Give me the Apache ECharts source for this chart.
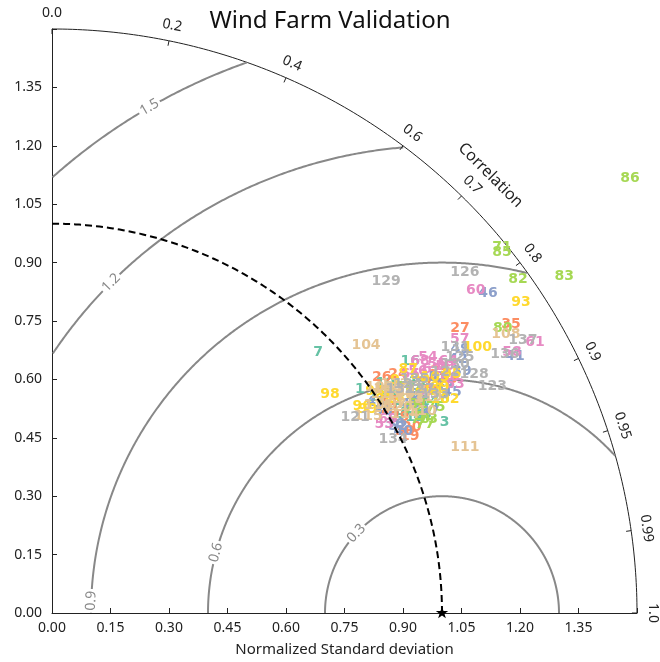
<!DOCTYPE html>
<html><head><meta charset="utf-8">
<script src="https://cdn.jsdelivr.net/npm/echarts@6/dist/echarts.min.js"></script>
<style>html,body{margin:0;padding:0;background:#fff}#c{width:660px;height:662px}</style>
</head><body><div id="c"></div>
<script>
// Point ids (labels drawn on the diagram)
const pointIds = [1,2,3,4,5,6,7,8,9,10,11,12,13,14,15,16,17,18,19,20,21,22,23,24,25,26,27,28,29,30,31,32,33,34,35,36,37,38,39,40,41,42,43,44,45,46,47,48,49,50,51,52,53,54,55,56,57,58,59,60,61,62,63,64,65,66,67,68,69,70,71,72,73,74,75,76,77,78,79,80,81,82,83,84,85,86,87,88,89,90,91,92,93,94,95,96,97,98,99,100,101,102,103,104,105,106,107,108,109,110,111,112,113,114,115,116,117,118,119,120,121,122,123,124,125,126,127,128,129,130,131,132,133,134,135,136,137];
// Normalized standard deviation of each point
const stdDev = [0.976,1.040,1.120,1.076,1.081,1.036,0.956,1.042,1.105,1.038,1.110,1.034,1.058,1.111,1.010,1.123,1.003,1.077,
1.024,1.039,1.012,1.069,1.138,1.078,1.173,1.040,1.276,1.080,1.024,1.018,1.116,1.141,1.179,1.019,1.391,
1.004,1.142,1.098,1.221,1.014,1.358,1.228,0.991,1.166,1.172,1.387,1.099,1.063,1.246,0.994,1.160,1.008,
0.980,1.166,1.176,1.125,1.260,1.356,1.190,1.367,1.420,1.158,1.189,1.204,1.104,1.186,1.115,1.144,0.995,
1.067,1.487,1.063,1.085,1.044,1.117,1.075,1.072,1.136,1.011,1.368,1.081,1.470,1.573,1.094,1.479,1.855,
1.107,1.039,1.151,1.118,1.074,1.015,1.444,1.005,1.195,0.956,1.087,0.907,0.964,1.286,1.127,1.147,1.154,
1.058,1.035,1.054,1.023,1.366,1.021,1.081,1.141,1.057,1.069,1.039,0.955,0.992,1.085,1.022,1.112,1.033,
0.925,1.183,1.270,1.085,1.235,1.373,1.105,1.244,1.208,1.215,1.238,1.061,1.131,0.982,1.107,1.338,1.396];
// Correlation of each point with the reference
const correlation = [0.809,0.853,0.899,0.858,0.873,0.842,0.714,0.869,0.865,0.823,0.846,0.863,0.880,0.872,0.870,0.818,0.834,0.881,
0.896,0.888,0.856,0.847,0.856,0.823,0.848,0.813,0.820,0.864,0.871,0.889,0.857,0.845,0.861,0.846,0.846,
0.876,0.871,0.859,0.861,0.888,0.874,0.848,0.838,0.864,0.875,0.806,0.882,0.864,0.840,0.854,0.853,0.880,
0.869,0.827,0.840,0.834,0.830,0.870,0.847,0.795,0.872,0.841,0.869,0.844,0.832,0.860,0.860,0.825,0.866,
0.885,0.776,0.871,0.889,0.843,0.881,0.842,0.892,0.876,0.832,0.845,0.868,0.813,0.835,0.851,0.780,0.799,
0.825,0.846,0.864,0.844,0.831,0.841,0.833,0.824,0.858,0.832,0.856,0.786,0.840,0.848,0.860,0.878,0.851,
0.761,0.832,0.846,0.852,0.852,0.823,0.878,0.928,0.832,0.858,0.871,0.849,0.843,0.851,0.835,0.867,0.859,
0.840,0.852,0.889,0.841,0.847,0.771,0.854,0.870,0.709,0.851,0.835,0.841,0.868,0.891,0.840,0.868,0.865];
const palette = ['#66c2a5','#fc8d62','#8da0cb','#e78ac3','#a6d854','#ffd92f','#e5c494','#b3b3b3'];
const refStd = 1.0;
const corrTicks = [0.0,0.2,0.4,0.6,0.7,0.8,0.9,0.95,0.99,1.0];
const corrTickLabels = ['0.0','0.2','0.4','0.6','0.7','0.8','0.9','0.95','0.99','1.0'];
const rmsLevels = [0.3,0.6,0.9,1.2,1.5];
const rmsLabels = ['0.3','0.6','0.9','1.2','1.5'];
const rmsLabelAngles = [137,165,178,135,120];
const stdMax = 1.5;
const stdInterval = 0.15;

const FONT = '"Noto Sans", "Open Sans", sans-serif';
const nPts = pointIds.length;
const pts = pointIds.map((id, i) => {
  const s = stdDev[i], c = correlation[i];
  const col = palette[Math.min(7, Math.floor((id - 1) * 8 / nPts))];
  return { name: String(id), value: [s * c, s * Math.sqrt(1 - c * c)], label: { color: col } };
});

const D = Math.PI / 180;
function guides(params, api) {
  const ch = [];
  const pt = (x, y) => api.coord([x, y]);
  const arc = [];
  for (let a = 0; a <= 90; a += 0.5) arc.push(pt(stdMax * Math.cos(a * D), stdMax * Math.sin(a * D)));
  ch.push({ type: 'polyline', shape: { points: arc }, style: { stroke: '#222', lineWidth: 1, fill: null } });
  rmsLevels.forEach((r) => {
    let seg = [];
    const flush = () => { if (seg.length > 1) ch.push({ type: 'polyline', shape: { points: seg }, style: { stroke: '#888', lineWidth: 2, fill: null } }); seg = []; };
    for (let p = 0; p <= 180; p += 0.25) {
      const x = refStd + r * Math.cos(p * D), y = r * Math.sin(p * D);
      if (x >= 0 && x * x + y * y <= stdMax * stdMax + 1e-9) seg.push(pt(x, y)); else flush();
    }
    flush();
  });
  rmsLevels.forEach((r, k) => {
    const p = rmsLabelAngles[k];
    const c = pt(refStd + r * Math.cos(p * D), r * Math.sin(p * D));
    ch.push({ type: 'text', x: c[0], y: c[1], rotation: (p - 90) * D,
      style: { text: rmsLabels[k], fill: '#888', fontSize: 14, fontFamily: FONT, align: 'center', verticalAlign: 'middle', backgroundColor: '#fff', padding: [0, 2] } });
  });
  corrTicks.forEach((c, k) => {
    const t = Math.acos(c);
    const a = pt(stdMax * Math.cos(t), stdMax * Math.sin(t));
    const b = pt((stdMax - 0.013) * Math.cos(t), (stdMax - 0.013) * Math.sin(t));
    ch.push({ type: 'line', shape: { x1: a[0], y1: a[1], x2: b[0], y2: b[1] }, style: { stroke: '#222', lineWidth: 1 } });
    const L = pt(1.54 * Math.cos(t), 1.54 * Math.sin(t));
    ch.push({ type: 'text', x: L[0], y: L[1], rotation: t - Math.PI / 2,
      style: { text: corrTickLabels[k], fill: '#222', fontSize: 14, fontFamily: FONT, align: 'center', verticalAlign: 'middle' } });
  });
  const T = pt(1.59 * Math.cos(45 * D), 1.59 * Math.sin(45 * D));
  ch.push({ type: 'text', x: T[0], y: T[1], rotation: -45 * D,
    style: { text: 'Correlation', fill: '#222', fontSize: 16, fontFamily: FONT, align: 'center', verticalAlign: 'middle' } });
  return { type: 'group', children: ch };
}
function reference(params, api) {
  const ch = [];
  const pt = (x, y) => api.coord([x, y]);
  const arc = [];
  for (let a = 0; a <= 90; a += 0.5) arc.push(pt(refStd * Math.cos(a * D), refStd * Math.sin(a * D)));
  ch.push({ type: 'polyline', shape: { points: arc }, style: { stroke: '#000', lineWidth: 2, fill: null, lineDash: [7, 4] } });
  const c = pt(refStd, 0);
  const star = [];
  for (let i = 0; i < 10; i++) {
    const rr = i % 2 === 0 ? 6.5 : 2.6;
    const ang = -Math.PI / 2 + i * Math.PI / 5;
    star.push([c[0] + rr * Math.cos(ang), c[1] + rr * Math.sin(ang)]);
  }
  ch.push({ type: 'polygon', shape: { points: star }, style: { fill: '#000' } });
  return { type: 'group', children: ch };
}

const axisCommon = {
  type: 'value', min: 0, max: stdMax, interval: stdInterval,
  axisLine: { show: true, lineStyle: { color: '#222', width: 1 } },
  axisTick: { show: true, inside: true, length: 5, lineStyle: { color: '#222' } },
  splitLine: { show: false },
  axisLabel: { color: '#222', fontSize: 14, fontFamily: FONT, formatter: v => v > stdMax - 0.01 ? '' : v.toFixed(2) }
};
const chart = echarts.init(document.getElementById('c'), null, { renderer: 'canvas' });
chart.setOption({
  animation: false,
  backgroundColor: '#fff',
  title: { text: 'Wind Farm Validation', left: 'center', top: 4, textStyle: { fontSize: 24, fontWeight: 'normal', color: '#111', fontFamily: FONT } },
  grid: { left: 52, right: 23, top: 29, bottom: 48, containLabel: false },
  xAxis: Object.assign({}, axisCommon, { name: 'Normalized Standard deviation', nameLocation: 'middle', nameGap: 29, nameTextStyle: { color: '#222', fontSize: 15, fontFamily: FONT } }),
  yAxis: Object.assign({}, axisCommon, { axisLabel: Object.assign({}, axisCommon.axisLabel, { margin: 10 }) }),
  series: [
    { type: 'custom', renderItem: guides, data: [[0, 0]], clip: false, silent: true, z: 1 },
    { type: 'scatter', data: pts, symbol: 'circle', symbolSize: 1, itemStyle: { color: 'rgba(0,0,0,0)' }, clip: false, z: 2,
      label: { show: true, position: 'inside', formatter: p => p.name, fontSize: 14, fontWeight: 'bold', fontFamily: '"DejaVu Sans", sans-serif', textBorderWidth: 0, opacity: 1 } },
    { type: 'custom', renderItem: reference, data: [[0, 0]], clip: false, silent: true, z: 3 }
  ]
});
</script></body></html>
